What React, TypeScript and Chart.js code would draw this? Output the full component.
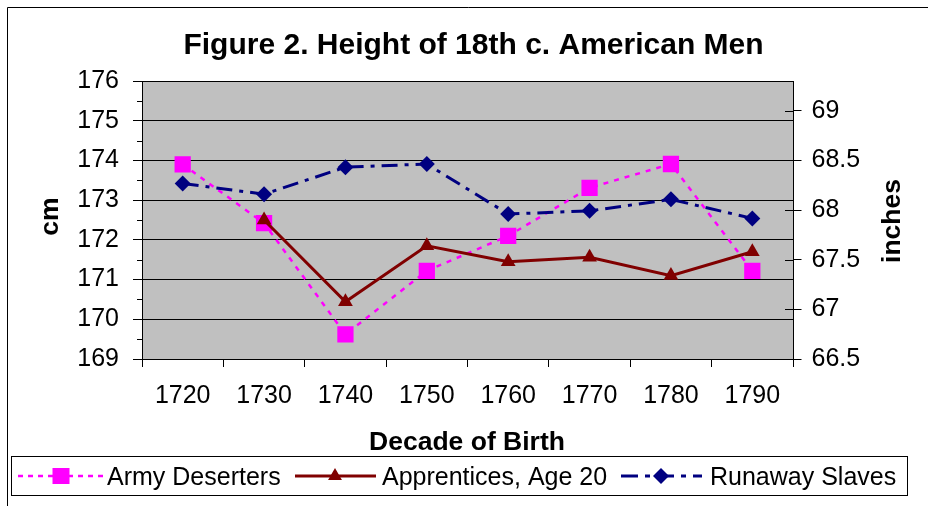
import React, { useEffect, useRef } from 'react';
import { Chart, registerables } from 'chart.js';

Chart.register(...registerables);

const titleText = 'Figure 2. Height of 18th c. American Men';
const xTitle = 'Decade of Birth';
const yLeftTitle = 'cm';
const yRightTitle = 'inches';

const decades = ['1720', '1730', '1740', '1750', '1760', '1770', '1780', '1790'];
const armyDeserters = [173.9, 172.42, 169.62, 171.22, 172.1, 173.31, 173.91, 171.22];
const apprentices = [null, 172.5, 170.44, 171.85, 171.45, 171.56, 171.1, 171.7];
const runawaySlaves = [173.42, 173.15, 173.83, 173.91, 172.65, 172.73, 173.02, 172.54];

const cmMin = 169;
const cmMax = 176;
const cmMinorTicks = [169.5, 170.5, 171.5, 172.5, 173.5, 174.5, 175.5];
const inchMin = 66.5;
const inchMax = 69.3;
const inchTicks = [66.5, 67, 67.5, 68, 68.5, 69];

const seriesNames = ['Army Deserters', 'Apprentices, Age 20', 'Runaway Slaves'];
const colArmy = '#FF00FF';
const colAppr = '#800000';
const colRun = '#000080';

const FONT = '"Liberation Sans", Arial, Helvetica, sans-serif';

function drawMarker(ctx: CanvasRenderingContext2D, kind: string, x: number, y: number, color: string) {
  ctx.save();
  ctx.fillStyle = color;
  ctx.beginPath();
  if (kind === 'rect') {
    ctx.rect(x - 8.5, y - 8, 17, 16);
  } else if (kind === 'triangle') {
    const r = 8;
    ctx.moveTo(x, y - r);
    ctx.lineTo(x + r * 0.866, y + r / 2);
    ctx.lineTo(x - r * 0.866, y + r / 2);
    ctx.closePath();
  } else {
    const r = 8;
    ctx.moveTo(x - r, y);
    ctx.lineTo(x, y - r);
    ctx.lineTo(x + r, y);
    ctx.lineTo(x, y + r);
    ctx.closePath();
  }
  ctx.fill();
  ctx.restore();
}

const decorPlugin = {
  id: 'decor',
  beforeDraw(chart: any) {
    const { ctx, chartArea: a } = chart;
    ctx.save();
    ctx.fillStyle = '#C0C0C0';
    ctx.fillRect(a.left, a.top, a.right - a.left, a.bottom - a.top);
    ctx.restore();
  },
  afterDraw(chart: any) {
    const { ctx, chartArea: a } = chart;
    const yL = chart.scales.y;
    const yR = chart.scales.y1;
    ctx.save();
    ctx.strokeStyle = '#000';
    ctx.lineWidth = 1;
    // outer frame
    ctx.beginPath();
    ctx.moveTo(7.5, 520);
    ctx.lineTo(7.5, 7.5);
    ctx.lineTo(940, 7.5);
    ctx.stroke();
    // minor ticks left
    ctx.beginPath();
    for (const v of cmMinorTicks) {
      const y = Math.round(yL.getPixelForValue(v)) + 0.5;
      ctx.moveTo(a.left - 5, y);
      ctx.lineTo(a.left, y);
    }
    // inner part of right ticks
    for (const v of inchTicks) {
      const y = Math.round(yR.getPixelForValue(v)) + 0.5;
      ctx.moveTo(a.right - 8, y);
      ctx.lineTo(a.right, y);
    }
    ctx.stroke();

    ctx.fillStyle = '#000';
    ctx.textBaseline = 'alphabetic';
    ctx.textAlign = 'center';
    ctx.font = 'bold 30px ' + FONT;
    ctx.fillText(titleText, 473.5, 53.5);
    ctx.font = 'bold 26.5px ' + FONT;
    ctx.fillText(xTitle, 467, 450);

    ctx.save();
    ctx.translate(58.3, 216.5);
    ctx.rotate(-Math.PI / 2);
    ctx.fillText(yLeftTitle, 0, 0);
    ctx.restore();

    ctx.save();
    ctx.translate(900, 221);
    ctx.rotate(-Math.PI / 2);
    ctx.fillText(yRightTitle, 0, 0);
    ctx.restore();

    // legend
    ctx.strokeStyle = '#000';
    ctx.lineWidth = 1;
    ctx.strokeRect(11.5, 456.5, 896, 39);
    const ly = 476;
    const items = [
      { x0: 18, x1: 103, mx: 61, color: colArmy, dash: [5, 5], w: 2.5, marker: 'rect', tx: 107 },
      { x0: 295, x1: 376, mx: 335, color: colAppr, dash: [], w: 3, marker: 'triangle', tx: 382 },
      { x0: 621, x1: 702, mx: 661, color: colRun, dash: [17, 7, 5, 7], w: 3, marker: 'rectRot', tx: 710 },
    ];
    items.forEach((it, i) => {
      ctx.save();
      ctx.strokeStyle = it.color;
      ctx.lineWidth = it.w;
      ctx.setLineDash(it.dash);
      ctx.beginPath();
      ctx.moveTo(it.x0, ly);
      ctx.lineTo(it.x1, ly);
      ctx.stroke();
      ctx.restore();
      drawMarker(ctx, it.marker, it.mx, ly, it.color);
      ctx.fillStyle = '#000';
      ctx.textAlign = 'left';
      ctx.font = '25px ' + FONT;
      ctx.fillText(seriesNames[i], it.tx, 485);
    });
    ctx.restore();
  },
};

export default function App() {
  const ref = useRef<HTMLCanvasElement | null>(null);
  useEffect(() => {
    document.body.style.margin = '0';
    if (!ref.current) return;
    Chart.defaults.font.family = FONT;
    Chart.defaults.color = '#000';
    const chart = new Chart(ref.current, {
      type: 'line',
      data: {
        labels: decades,
        datasets: [
          {
            label: seriesNames[0],
            data: armyDeserters,
            borderColor: colArmy,
            backgroundColor: colArmy,
            borderWidth: 2.5,
            borderDash: [5, 6],
            pointStyle: 'rect',
            pointRadius: 11.5,
            pointBorderWidth: 0,
            pointBackgroundColor: colArmy,
            tension: 0,
            order: 3,
            yAxisID: 'y',
          },
          {
            label: seriesNames[1],
            data: apprentices,
            borderColor: colAppr,
            backgroundColor: colAppr,
            borderWidth: 3,
            pointStyle: 'triangle',
            pointRadius: 8.5,
            pointBorderWidth: 0,
            pointBackgroundColor: colAppr,
            tension: 0,
            order: 2,
            yAxisID: 'y',
          },
          {
            label: seriesNames[2],
            data: runawaySlaves,
            borderColor: colRun,
            backgroundColor: colRun,
            borderWidth: 3,
            borderDash: [16, 7, 4, 7],
            pointStyle: 'rectRot',
            pointRadius: 8,
            pointBorderWidth: 0,
            pointBackgroundColor: colRun,
            tension: 0,
            order: 1,
            yAxisID: 'y',
          },
        ],
      },
      options: {
        responsive: false,
        animation: false,
        events: [],
        layout: { padding: { top: 81, left: 0, right: 0, bottom: 0 } },
        plugins: {
          legend: { display: false },
          title: { display: false },
          tooltip: { enabled: false },
        },
        scales: {
          x: {
            type: 'category',
            offset: true,
            grid: {
              display: true,
              drawOnChartArea: false,
              drawTicks: true,
              tickLength: 8,
              offset: true,
              color: '#000',
            },
            border: { display: true, color: '#000', width: 1 },
            ticks: { font: { size: 25 }, color: '#000', padding: 14, maxRotation: 0, autoSkip: false },
            afterFit: (s: any) => { s.height = 147; },
          },
          y: {
            type: 'linear',
            position: 'left',
            min: cmMin,
            max: cmMax,
            ticks: { stepSize: 1, font: { size: 25 }, color: '#000', padding: 14 },
            grid: { color: '#000', lineWidth: 1, tickLength: 9, drawTicks: true },
            border: { display: true, color: '#000', width: 1 },
            afterFit: (s: any) => { s.width = 142; },
          },
          y1: {
            type: 'linear',
            position: 'right',
            min: inchMin,
            max: inchMax,
            afterBuildTicks: (s: any) => { s.ticks = inchTicks.map((v) => ({ value: v })); },
            ticks: { font: { size: 25 }, color: '#000', padding: 10, callback: (v: any) => String(v) },
            grid: { drawOnChartArea: false, color: '#000', tickLength: 8.5, drawTicks: true },
            border: { display: true, color: '#000', width: 1 },
            afterFit: (s: any) => { s.width = 135; },
          },
        },
      },
      plugins: [decorPlugin],
    } as any);
    return () => chart.destroy();
  }, []);
  return (
    <div style={{ position: 'absolute', left: 0, top: 0, width: 928, height: 506, background: '#fff' }}>
      <canvas ref={ref} width={928} height={506} style={{ display: 'block' }} />
    </div>
  );
}
